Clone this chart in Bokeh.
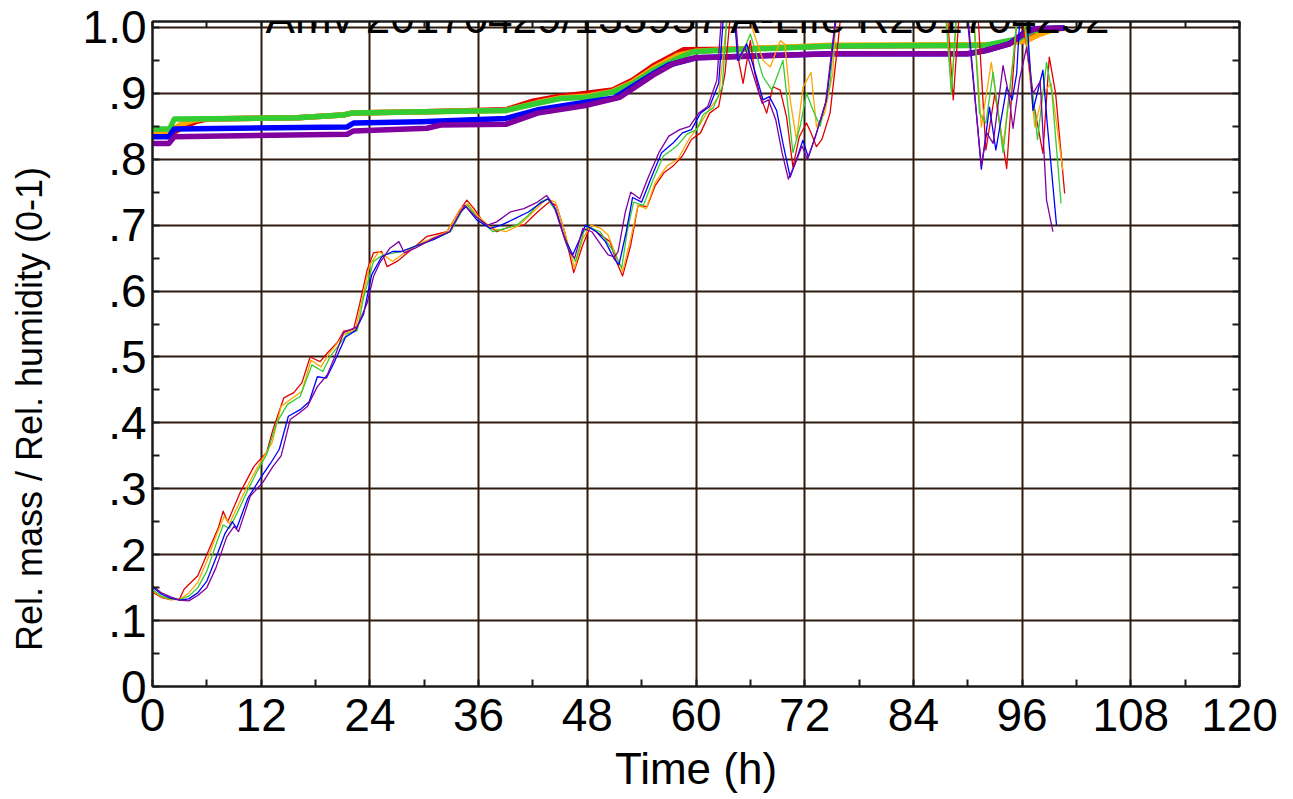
from bokeh.plotting import figure
from bokeh.models import Range1d, LinearAxis, FixedTicker, Label
from bokeh.embed import file_html
from bokeh.resources import INLINE

title_text = "Amv 20170429/135957 A-Life R201704292"
x_label = "Time (h)"
y_label = "Rel. mass / Rel. humidity (0-1)"

x_ticks = [0, 12, 24, 36, 48, 60, 72, 84, 96, 108, 120]
x_minor = [6, 18, 30, 42, 54, 66, 78, 90, 102, 114]
y_ticks = [0, 0.1, 0.2, 0.3, 0.4, 0.5, 0.6, 0.7, 0.8, 0.9, 1.0]
y_tick_labels = ["0", ".1", ".2", ".3", ".4", ".5", ".6", ".7", ".8", ".9", "1.0"]
y_minor = [0.05, 0.15, 0.25, 0.35, 0.45, 0.55, 0.65, 0.75, 0.85, 0.95]

series_colors = ["#e00000", "#ffa500", "#33cc33", "#0000ff", "#8000a0"]

# thick curves (hours, value)
red_rh = [(0, 0.838), (2, 0.838), (3.5, 0.85), (5, 0.858), (6, 0.861), (16, 0.863), (21, 0.867), (22, 0.870),
          (30, 0.872), (39, 0.875), (42, 0.888), (44.7, 0.895), (48, 0.9), (50.8, 0.905), (53, 0.92), (55.3, 0.942),
          (58.6, 0.966), (64, 0.967), (75, 0.972), (93, 0.973), (96, 0.98), (97.5, 0.99), (99, 0.997), (100.7, 0.999)]
orange_rh = [(0, 0.842), (2, 0.842), (3, 0.852), (4.5, 0.859), (5.5, 0.861), (16, 0.863), (21, 0.867), (22, 0.870),
             (30, 0.872), (39, 0.874), (42.5, 0.886), (45, 0.893), (48, 0.896), (50.8, 0.903), (53, 0.917),
             (55.3, 0.938), (58, 0.958), (60, 0.964), (64, 0.967), (75, 0.973), (93.5, 0.974), (96.5, 0.98),
             (98, 0.99), (99.5, 0.997), (100.7, 0.999)]
green_rh = [(0, 0.846), (1.9, 0.846), (2.4, 0.861), (10, 0.862), (16, 0.863), (21, 0.867), (22, 0.870), (30, 0.872),
            (39, 0.874), (42.5, 0.885), (45, 0.892), (48, 0.894), (50.8, 0.902), (53, 0.915), (55.3, 0.935),
            (57.5, 0.95), (59.7, 0.963), (64, 0.966), (75, 0.972), (92, 0.973), (95.7, 0.983), (97.2, 0.995),
            (98.5, 0.998), (100.7, 0.999)]
blue_rh = [(0, 0.834), (1.8, 0.834), (2.4, 0.846), (21.5, 0.849), (22.2, 0.855), (29.6, 0.857), (39, 0.862),
           (42.5, 0.875), (48, 0.887), (51, 0.893), (55.3, 0.93), (57, 0.943), (60, 0.954), (75, 0.960),
           (90, 0.960), (92, 0.965), (94.6, 0.975), (96.5, 0.995), (97.5, 0.998), (100.7, 0.999)]
purple_rh = [(0, 0.824), (1.8, 0.824), (2.4, 0.834), (21.5, 0.838), (22.2, 0.843), (30.3, 0.847), (31.8, 0.852),
             (39, 0.853), (42.5, 0.87), (48, 0.882), (51.6, 0.894), (55.3, 0.928), (57.5, 0.945), (60, 0.954),
             (75, 0.960), (90, 0.960), (92, 0.965), (94.6, 0.975), (96.5, 0.993), (97.5, 0.998), (100.5, 0.999)]

# thin curves (hours, value); values above 1 leave the plot at the top
red_mass = [(0, 0.143), (1, 0.135), (2, 0.132), (3, 0.133), (3.5, 0.148), (5, 0.168), (6.4, 0.213), (7.3, 0.242),
            (7.8, 0.266), (8.3, 0.25), (9.7, 0.295), (11.2, 0.334), (12.6, 0.355), (13.3, 0.39), (14.5, 0.438),
            (15.6, 0.446), (16.5, 0.461), (17.4, 0.5), (18.5, 0.493), (19.3, 0.506), (20.4, 0.522), (21.1, 0.539),
            (22.2, 0.542), (22.9, 0.582), (23.7, 0.632), (24.4, 0.658), (25.3, 0.66), (25.9, 0.637), (27, 0.645),
            (28.5, 0.662), (30.3, 0.683), (32.5, 0.69), (33.8, 0.72), (34.7, 0.738), (35.5, 0.725), (36.5, 0.705),
            (38, 0.69), (39.5, 0.698), (41, 0.7), (42.5, 0.72), (43.8, 0.735), (44.6, 0.73), (45.5, 0.69),
            (46.5, 0.628), (47.5, 0.67), (48.3, 0.697), (49.5, 0.685), (50.5, 0.675), (51.2, 0.645), (51.9, 0.623),
            (52.8, 0.67), (53.6, 0.73), (54.6, 0.728), (55.5, 0.76), (56.5, 0.78), (57.5, 0.79), (58.5, 0.805),
            (59.5, 0.83), (60.5, 0.84), (61.5, 0.87), (62.5, 0.88), (63.2, 0.93), (64, 1.05), (64.7, 0.95),
            (65.2, 0.915), (66, 0.98), (66.5, 0.93), (67, 0.9), (67.8, 0.87), (68.5, 0.91), (69.3, 0.905),
            (70, 0.864), (70.7, 0.788), (71.4, 0.834), (72.2, 0.855), (72.7, 0.84), (73.3, 0.819), (73.9, 0.83),
            (74.8, 0.87), (75.7, 0.98), (76.2, 1.05), (80, 1.15), (87.6, 1.05), (88.4, 0.89), (89.2, 1.05),
            (90, 1.15), (91, 1.05), (92, 0.814), (93, 0.9), (94.3, 0.786), (95.6, 1.05), (96.5, 0.97),
            (97.2, 0.89), (98.3, 0.809), (99, 0.955), (99.7, 0.9), (100.7, 0.748)]
orange_mass = [(0, 0.145), (1, 0.136), (2, 0.132), (3, 0.132), (4, 0.142), (5, 0.158), (6, 0.19), (7, 0.228),
               (7.9, 0.258), (8.5, 0.247), (9.8, 0.285), (11, 0.318), (12, 0.342), (13.2, 0.37), (14.2, 0.425),
               (15.5, 0.438), (16.5, 0.448), (17.5, 0.495), (18.6, 0.485), (19.5, 0.505), (21.2, 0.535),
               (22.4, 0.542), (23.1, 0.585), (24, 0.64), (25, 0.66), (26.5, 0.645), (28, 0.66), (30, 0.675),
               (32.5, 0.69), (34, 0.725), (34.8, 0.733), (35.8, 0.715), (37.5, 0.695), (39, 0.69), (40.5, 0.7),
               (42, 0.72), (43.5, 0.74), (44.5, 0.735), (45.5, 0.69), (46.6, 0.635), (47.5, 0.68), (48.4, 0.7),
               (49.5, 0.695), (50.3, 0.685), (51, 0.66), (51.9, 0.63), (52.8, 0.68), (53.6, 0.73), (54.5, 0.725),
               (55.5, 0.765), (56.8, 0.79), (58, 0.8), (59.2, 0.83), (60.3, 0.85), (61.4, 0.875), (62.5, 0.895),
               (63.7, 1.05), (65, 1.05), (66.3, 0.995), (67.4, 0.95), (68.2, 0.94), (69.3, 0.98), (69.8, 0.975),
               (70.4, 0.89), (71.1, 0.829), (71.8, 0.909), (72.7, 0.932), (73.3, 0.849), (74.2, 0.87),
               (75.1, 0.93), (75.6, 1.05), (80, 1.15), (87.5, 1.05), (88.2, 0.905), (88.9, 1.05), (90, 1.15),
               (90.5, 1.05), (91.5, 0.849), (92.6, 0.947), (93.9, 0.819), (95, 0.95), (95.7, 1.05), (96.3, 1.0),
               (97.4, 0.849), (98.3, 0.9), (99.2, 0.915), (100.5, 0.783)]
green_mass = [(0, 0.147), (1, 0.137), (2, 0.133), (3, 0.132), (4, 0.137), (5, 0.15), (6, 0.175), (7, 0.215),
              (7.8, 0.245), (8.5, 0.24), (9.4, 0.265), (10.6, 0.3), (11.5, 0.325), (12.6, 0.352), (13.7, 0.4),
              (14.9, 0.428), (16.3, 0.44), (17.6, 0.488), (18.8, 0.478), (19.6, 0.5), (21.5, 0.535),
              (22.6, 0.54), (23.3, 0.59), (24.4, 0.645), (25.5, 0.655), (27.4, 0.66), (29, 0.668), (31, 0.678),
              (32.9, 0.69), (34.3, 0.725), (34.8, 0.73), (35.8, 0.712), (37.6, 0.69), (39, 0.695), (40.2, 0.7),
              (41.5, 0.715), (42.8, 0.735), (43.6, 0.74), (44.6, 0.72), (45.7, 0.67), (46.7, 0.645),
              (47.6, 0.69), (48.1, 0.698), (49.4, 0.69), (50.9, 0.66), (51.8, 0.635), (52.4, 0.69),
              (53.1, 0.735), (54.2, 0.73), (55.3, 0.77), (56.4, 0.805), (57.9, 0.82), (59, 0.838), (60.1, 0.845),
              (60.8, 0.868), (61.9, 0.878), (62.9, 0.91), (63.6, 1.05), (64.2, 1.02), (64.8, 0.95), (66, 0.99),
              (67.4, 0.925), (68.4, 0.905), (69.6, 0.95), (70.7, 0.81), (71.5, 0.85), (72.2, 0.9), (72.9, 0.875),
              (73.7, 0.85), (74.8, 0.915), (75.6, 1.05), (80, 1.15), (87.4, 1.05), (88.2, 0.9), (88.9, 1.05),
              (90, 1.15), (90.5, 1.05), (91.3, 0.87), (92, 0.855), (92.8, 0.932), (93.9, 0.81), (95, 0.95),
              (95.7, 1.05), (96.5, 0.99), (97.7, 0.83), (98.7, 0.947), (99.3, 0.9), (100.3, 0.733)]
blue_mass = [(0, 0.151), (1, 0.14), (2, 0.134), (3, 0.131), (4, 0.133), (5, 0.142), (6, 0.16), (7, 0.195),
             (8, 0.232), (8.8, 0.25), (9.3, 0.24), (10.5, 0.285), (12, 0.318), (13, 0.338), (14, 0.36),
             (15, 0.41), (16.3, 0.42), (17.3, 0.432), (18.2, 0.47), (19.2, 0.468), (20, 0.49), (21.3, 0.53),
             (22.4, 0.54), (23.3, 0.565), (24.2, 0.625), (25.3, 0.652), (26.5, 0.66), (27.5, 0.66), (29, 0.668),
             (31, 0.678), (32.8, 0.69), (34, 0.72), (34.6, 0.728), (35.8, 0.708), (37.3, 0.695), (38.5, 0.7),
             (40, 0.71), (41.5, 0.72), (43, 0.735), (43.7, 0.74), (44.5, 0.725), (45.5, 0.68), (46.4, 0.655),
             (47.2, 0.68), (47.8, 0.7), (49, 0.69), (50, 0.675), (51, 0.648), (51.5, 0.64), (52.3, 0.69),
             (53, 0.742), (54, 0.735), (55, 0.77), (56.2, 0.81), (57.5, 0.825), (58.5, 0.84), (59.5, 0.845),
             (60.5, 0.87), (61.5, 0.88), (62.5, 0.915), (63.2, 1.05), (64.1, 1.05), (64.6, 0.95), (65.6, 0.975),
             (66.7, 0.924), (67.4, 0.89), (68.1, 0.895), (68.9, 0.874), (69.6, 0.824), (70.4, 0.773),
             (71.1, 0.8), (71.8, 0.829), (72.4, 0.803), (73.3, 0.84), (74.4, 0.89), (75.3, 0.995), (75.8, 1.05),
             (80, 1.15), (88, 1.15), (89.8, 1.05), (91.5, 0.785), (92.4, 0.879), (93.1, 0.814), (94.3, 0.909),
             (94.9, 0.89), (95.4, 0.93), (95.9, 1.05), (96.5, 1.02), (97.2, 0.874), (98.3, 0.935), (98.8, 0.85),
             (99.8, 0.7)]
purple_mass = [(0, 0.153), (1, 0.142), (2, 0.136), (3, 0.131), (4, 0.13), (5, 0.138), (6, 0.15), (7, 0.18),
               (8.2, 0.227), (9, 0.243), (9.5, 0.235), (10.8, 0.289), (12.2, 0.31), (13.3, 0.334), (14.2, 0.35),
               (15.2, 0.405), (16.2, 0.415), (17.1, 0.425), (18.2, 0.455), (19.3, 0.473), (20, 0.496),
               (21.1, 0.537), (22.6, 0.546), (23.7, 0.582), (24.4, 0.622), (25.1, 0.643), (26.2, 0.665),
               (27.2, 0.675), (27.8, 0.658), (29, 0.665), (31, 0.68), (32.8, 0.69), (34, 0.72), (34.5, 0.73),
               (35.5, 0.715), (37, 0.7), (38, 0.705), (39.5, 0.72), (41, 0.725), (42.5, 0.735), (43.5, 0.745),
               (44.3, 0.73), (45, 0.7), (46, 0.66), (46.6, 0.65), (47.5, 0.695), (48.5, 0.69), (49.5, 0.67),
               (50.3, 0.655), (51, 0.652), (51.4, 0.66), (52.2, 0.72), (52.8, 0.75), (53.8, 0.74), (54.8, 0.775),
               (55.9, 0.81), (57, 0.835), (58.2, 0.845), (59.3, 0.85), (60.3, 0.87), (61.3, 0.88), (62.3, 0.92),
               (63, 1.05), (64.2, 1.05), (64.7, 0.95), (65.4, 0.97), (66.5, 0.92), (67.3, 0.885), (68, 0.89),
               (68.8, 0.86), (69.5, 0.81), (70.2, 0.77), (71, 0.795), (71.7, 0.82), (72.3, 0.8), (73.2, 0.835),
               (74.3, 0.885), (75.2, 0.99), (75.7, 1.05), (80, 1.15), (88, 1.15), (89.7, 1.05), (91.5, 0.79),
               (92.1, 0.84), (92.8, 0.824), (93.9, 0.942), (94.5, 0.9), (95, 0.847), (95.7, 0.92), (96.5, 0.97),
               (97.2, 0.9), (98, 0.918), (98.7, 0.738), (99.4, 0.69)]

thick_series = [red_rh, orange_rh, green_rh, blue_rh, purple_rh]
thin_series = [red_mass, orange_mass, green_mass, blue_mass, purple_mass]

FONT = "Liberation Sans"
GRID = "#2e1a0e"
AXIS = "#1a1a1a"

p = figure(width=1290, height=795, output_backend="svg", toolbar_location=None,
           x_range=Range1d(0, 120), y_range=Range1d(0, 1.009),
           min_border_left=152, min_border_right=51, min_border_top=21, min_border_bottom=107,
           x_axis_location=None, y_axis_location=None)
p.background_fill_color = "white"
p.border_fill_color = "white"
p.outline_line_color = AXIS
p.outline_line_width = 2

xt = FixedTicker(ticks=x_ticks, minor_ticks=x_minor)
yt = FixedTicker(ticks=y_ticks, minor_ticks=y_minor)
xt_marks = FixedTicker(ticks=[], minor_ticks=sorted(x_ticks + x_minor))
yt_marks = FixedTicker(ticks=[], minor_ticks=sorted(y_ticks + y_minor))
overrides = {v: s for v, s in zip(y_ticks, y_tick_labels)}


def style_axis(ax, tick_in):
    ax.axis_line_color = AXIS
    ax.axis_line_width = 2
    ax.major_tick_line_color = AXIS
    ax.minor_tick_line_color = AXIS
    ax.major_tick_line_width = 2
    ax.minor_tick_line_width = 2
    ax.major_tick_in = tick_in
    ax.major_tick_out = 0
    ax.minor_tick_in = tick_in
    ax.minor_tick_out = 0
    ax.major_label_text_font = FONT
    ax.major_label_text_font_size = "46px"
    ax.major_label_text_color = "black"


bottom = LinearAxis(ticker=xt)
style_axis(bottom, 7)
bottom.major_label_standoff = 12
bottom.axis_label = x_label
bottom.axis_label_text_font = FONT
bottom.axis_label_text_font_size = "44px"
bottom.axis_label_text_font_style = "normal"
bottom.axis_label_text_color = "black"
bottom.axis_label_standoff = 10
p.add_layout(bottom, "below")

# the reference's y label sits ~55 px below the frame centre: trailing no-break
# spaces lengthen the (rotated) label upward so its visible text moves down
left = LinearAxis(ticker=yt, major_label_overrides=overrides)
style_axis(left, 7)
left.major_label_standoff = 6
left.axis_label = y_label + "\u00a0" * 11
left.axis_label_text_font = FONT
left.axis_label_text_font_size = "36px"
left.axis_label_text_font_style = "normal"
left.axis_label_text_color = "black"
left.axis_label_standoff = 30
p.add_layout(left, "left")

top = LinearAxis(ticker=xt_marks)
style_axis(top, 6)
p.add_layout(top, "above")

right = LinearAxis(ticker=yt_marks)
style_axis(right, 7)
p.add_layout(right, "right")

p.xgrid.ticker = xt
p.ygrid.ticker = yt
for g in (p.xgrid, p.ygrid):
    g.grid_line_color = GRID
    g.grid_line_width = 2
    g.grid_line_alpha = 1

for data, col in zip(thick_series, series_colors):
    p.line([d[0] for d in data], [d[1] for d in data], line_color=col, line_width=5.5,
           line_join="round", line_cap="butt")

for data, col in zip(thin_series, series_colors):
    p.line([d[0] for d in data], [d[1] for d in data], line_color=col, line_width=1.3,
           line_join="round")

p.add_layout(Label(x=59.2, y=1.015, text=title_text, text_font=FONT, text_font_size="44px",
                   text_align="center", text_baseline="alphabetic", text_color="black"))

open("out.html", "w").write(file_html(p, INLINE))
